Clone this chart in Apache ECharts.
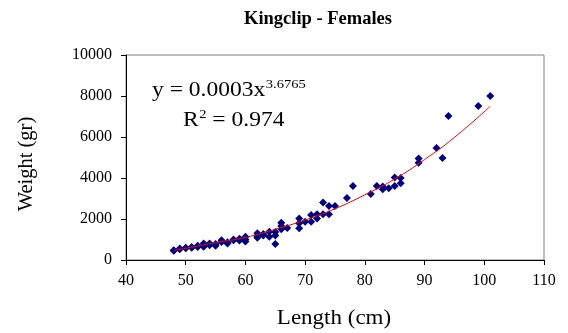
<!DOCTYPE html>
<html>
<head>
<meta charset="utf-8">
<script src="https://cdn.jsdelivr.net/npm/echarts@6/dist/echarts.min.js"></script>
<style>html,body{margin:0;padding:0;background:#fff}#c{width:568px;height:333px}</style>
</head>
<body>
<div id="c"></div>
<script>
// Length (cm) of each fish
var lengths = [48,48,49,49,50,50,51,51,52,52,53,53,53,54,54,55,55,56,56,57,57,58,58,59,59,60,60,60,
  62,62,62,63,63,64,64,65,65,65,66,66,66,67,69,69,69,70,71,71,72,72,73,73,74,74,75,77,78,
  81,82,83,83,84,85,85,86,86,89,89,92,93,94,99,101];
// Weight (gr) of each fish
var weights = [480,450,520,560,570,600,630,600,640,700,700,800,650,800,720,700,780,960,880,860,800,960,1000,1040,950,1140,1000,900,
  1170,1300,1080,1270,1200,1140,1380,1370,780,1200,1820,1660,1500,1560,2030,1790,1550,1870,2200,1870,2230,2030,2800,2230,2630,2230,2630,3020,3610,
  3220,3610,3580,3450,3500,4030,3610,4000,3740,4950,4750,5460,4975,7020,7510,8000];
// Power trendline
var trendX = [48,50,55,60,65,70,75,80,85,90,95,101];
var trendY = [480,570,850,1100,1500,1950,2500,3180,3950,4900,5980,7500];
var xTicks = {min:40, max:110, interval:10};
var yTicks = {min:0, max:10000, interval:2000};

var pts = lengths.map(function(l,i){return [l, weights[i]];});
var trend = trendX.map(function(x,i){return [x, trendY[i]];});
var serif = 'Liberation Serif';

var mctx = document.createElement('canvas').getContext('2d');
function tw(t, size){ mctx.font = size + 'px "' + serif + '"'; return mctx.measureText(t).width; }
var SX = 1.12, F = 21, FS = 13;
var eq1 = 'y = 0.0003x', eq1s = '3.6765';
var r1 = 'R', r1s = '2', r2 = ' = 0.974';
var eqX = 152, rX = 183;
function txt(x, y, t, size){
  return {type:'text', x:x, y:y, scaleX:SX, style:{text:t, fontFamily:serif, fontSize:size, fill:'#000', align:'left', verticalAlign:'middle'}};
}
var rSupX = rX + tw(r1, F)*SX + 0.5;
var graphics = [
  {type:'text', x:244, y:19, style:{text:'Kingclip - Females', fontFamily:serif, fontSize:18.5, fontWeight:'bold', fill:'#000', align:'left', verticalAlign:'middle'}},
  {type:'text', x:334, y:319, scaleX:1.15, style:{text:'Length (cm)', fontFamily:serif, fontSize:20, fill:'#000', align:'center', verticalAlign:'middle'}},
  {type:'text', x:27, y:164, rotation:Math.PI/2, style:{text:'Weight (gr)', fontFamily:serif, fontSize:20.5, fill:'#000', align:'center', verticalAlign:'middle'}},
  txt(eqX, 90, eq1, F),
  txt(eqX + tw(eq1, F)*SX + 0.5, 85, eq1s, FS),
  txt(rX, 120, r1, F),
  txt(rSupX, 115, r1s, FS),
  txt(rSupX + tw(r1s, FS)*SX, 120, r2, F)
];

var chart = echarts.init(document.getElementById('c'), null, {renderer:'canvas'});
chart.setOption({
  animation:false,
  backgroundColor:'#fff',
  grid:{left:126, right:24, top:55, bottom:73, show:true, borderColor:'#808080', borderWidth:1},
  xAxis:{type:'value', min:xTicks.min, max:xTicks.max, interval:xTicks.interval,
    axisLine:{show:true, onZero:false, lineStyle:{color:'#000', width:1}},
    axisTick:{show:true, inside:false, length:5, lineStyle:{color:'#000'}},
    axisLabel:{fontFamily:serif, fontSize:16, color:'#000', margin:13},
    splitLine:{show:false}},
  yAxis:{type:'value', min:yTicks.min, max:yTicks.max, interval:yTicks.interval,
    axisLine:{show:true, onZero:false, lineStyle:{color:'#000', width:1}},
    axisTick:{show:true, inside:false, length:5, lineStyle:{color:'#000'}},
    axisLabel:{fontFamily:serif, fontSize:16, color:'#000', margin:14,
      formatter:function(v){return String(v);}},
    splitLine:{show:false}},
  graphic:graphics,
  series:[
    {type:'scatter', data:pts, symbol:'diamond', symbolSize:8, itemStyle:{color:'#000080', opacity:1}, z:2},
    {type:'line', data:trend, smooth:true, showSymbol:false, lineStyle:{color:'#ff0000', width:1}, z:3}
  ]
});
</script>
</body>
</html>
